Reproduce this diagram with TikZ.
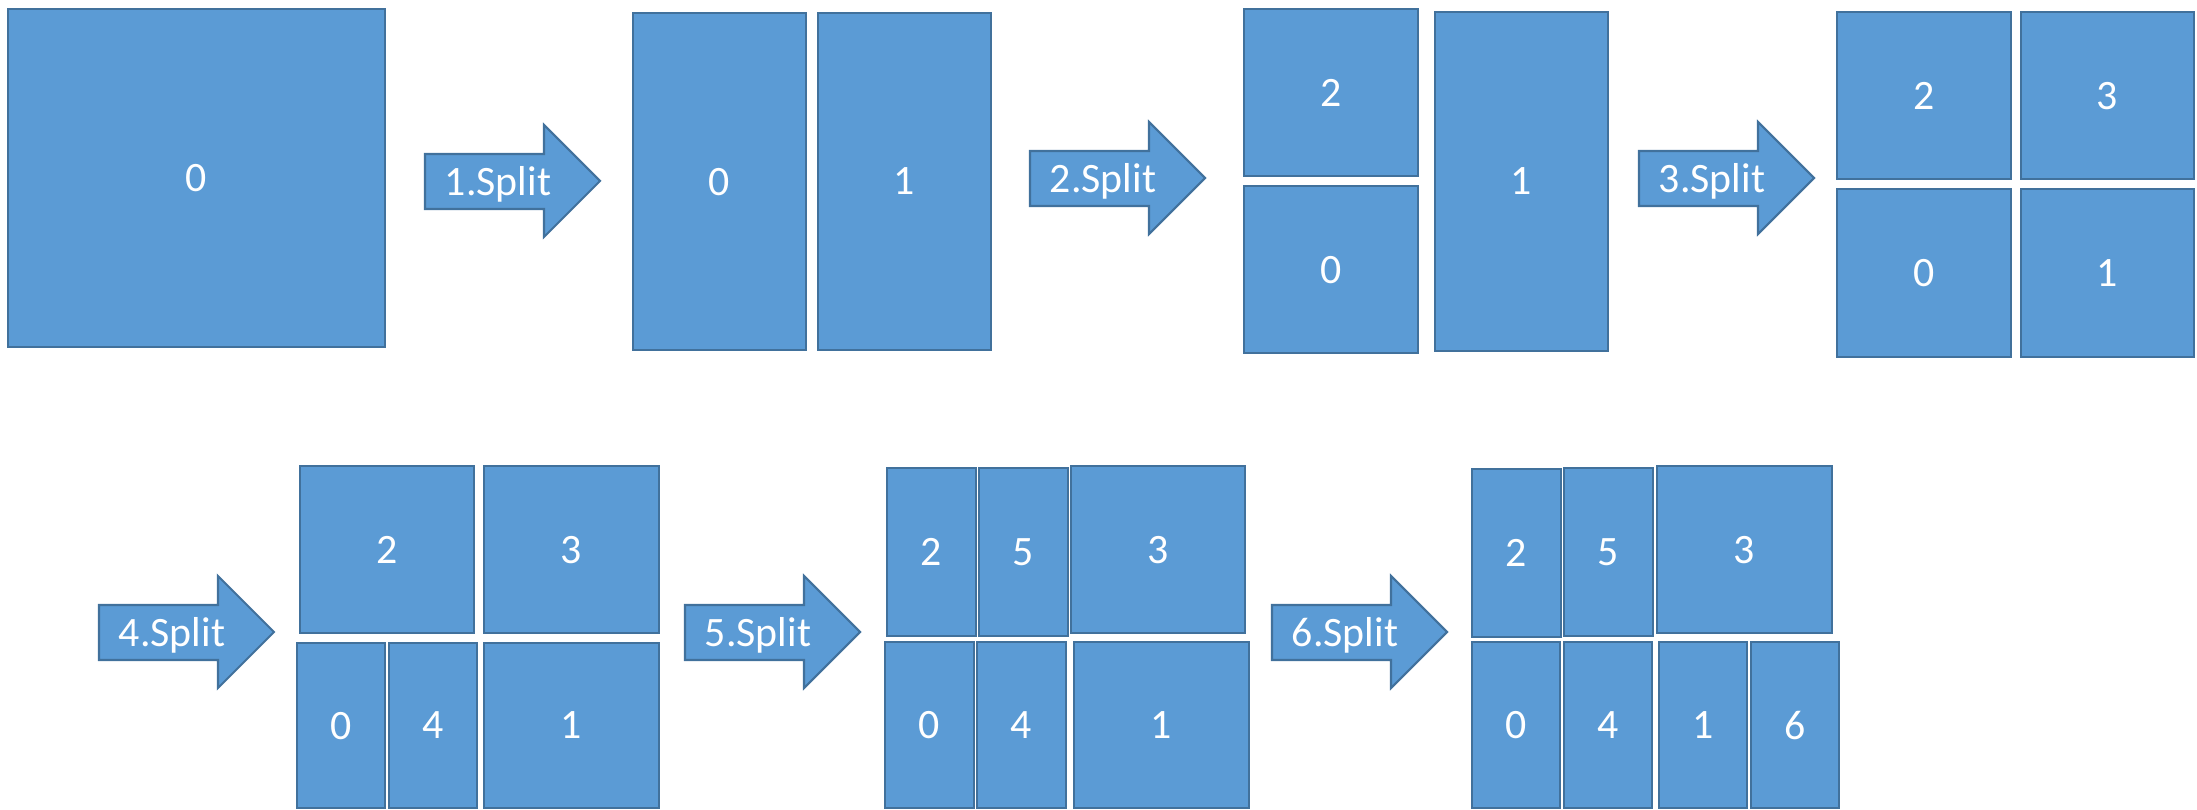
\documentclass[tikz,border=0pt]{standalone}
\usepackage{fontspec}
\setmainfont{Carlito}
\definecolor{blkfill}{HTML}{5B9BD5}
\definecolor{blkedge}{HTML}{41719C}
\tikzset{
  blkline/.style={draw=blkedge, fill=blkfill, line width=0.6pt},
  lbl/.style={text=white, font=\fontsize{11.9}{14}\selectfont, inner sep=0pt, text depth=0pt},
}
\newcommand\blk[6]{%
  \draw[blkline] (#2,#3) rectangle (#4,#5);
  \node[lbl] (#1) at ({(#2+#4)/2},{(#3+#5)/2}) {#6};}
% name, left x, centre y, label
\newcommand\sarrow[4]{%
  \draw[blkline, line join=miter]
    (#2,#3-27) -- (#2+119,#3-27) -- (#2+119,#3-56) -- (#2+175,#3)
    -- (#2+119,#3+56) -- (#2+119,#3+28) -- (#2,#3+28) -- cycle;
  \node[lbl] (#1) at (#2+73,#3) {#4};}
\begin{document}
\begin{tikzpicture}[x=0.01cm, y=-0.01cm]
\useasboundingbox (0,0) rectangle (2197,810);
% row 1
\blk{a0}{8}{9}{385}{347}{0}
\sarrow{ar1}{425}{181}{1.Split}
\blk{s1a}{633}{13}{806}{350}{0}
\blk{s1b}{818}{13}{991}{350}{1}
\sarrow{ar2}{1030}{178}{2.Split}
\blk{s2a}{1244}{9}{1418}{176}{2}
\blk{s2b}{1244}{186}{1418}{353}{0}
\blk{s2c}{1435}{12}{1608}{351}{1}
\sarrow{ar3}{1639}{178}{3.Split}
\blk{s3a}{1837}{12}{2011}{179}{2}
\blk{s3b}{2021}{12}{2194}{179}{3}
\blk{s3c}{1837}{189}{2011}{357}{0}
\blk{s3d}{2021}{189}{2194}{357}{1}
% row 2
\sarrow{ar4}{99}{632}{4.Split}
\blk{s4a}{300}{466}{474}{633}{2}
\blk{s4b}{484}{466}{659}{633}{3}
\blk{s4c}{297}{643}{385}{808}{0}
\blk{s4d}{389}{643}{477}{808}{4}
\blk{s4e}{484}{643}{659}{808}{1}
\sarrow{ar5}{685}{632}{5.Split}
\blk{s5a}{887}{468}{976}{636}{2}
\blk{s5b}{979}{468}{1068}{636}{5}
\blk{s5c}{1071}{466}{1245}{633}{3}
\blk{s5d}{885}{642}{974}{808}{0}
\blk{s5e}{977}{642}{1066}{808}{4}
\blk{s5f}{1074}{642}{1249}{808}{1}
\sarrow{ar6}{1272}{632}{6.Split}
\blk{s6a}{1472}{469}{1561}{637}{2}
\blk{s6b}{1564}{468}{1653}{636}{5}
\blk{s6c}{1657}{466}{1832}{633}{3}
\blk{s6d}{1472}{642}{1560}{808}{0}
\blk{s6e}{1564}{642}{1652}{808}{4}
\blk{s6f}{1659}{642}{1747}{808}{1}
\blk{s6g}{1751}{642}{1839}{808}{6}
\end{tikzpicture}
\end{document}
